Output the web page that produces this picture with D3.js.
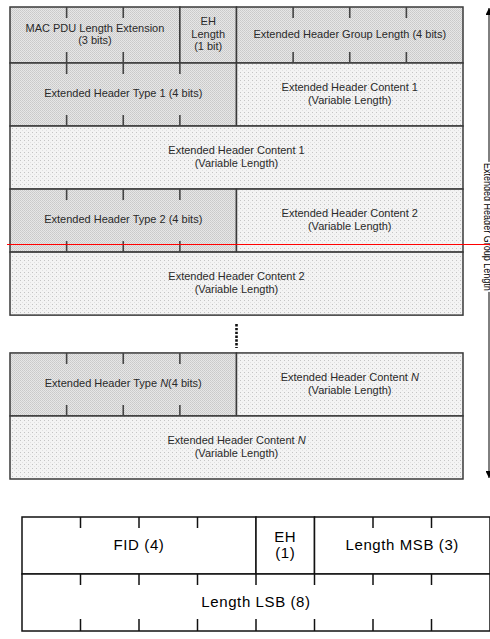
<!DOCTYPE html>
<meta charset="utf-8">
<title>Extended Header Group</title>
<script src="https://d3js.org/d3.v7.min.js"></script>
<style>
  body { margin: 0; background: #fff; }
  svg { display: block; }
  text { font-family: "Liberation Sans", Arial, sans-serif; }
</style>
<div id="chart"></div>
<script>
  // field layout of the extended header group, row by row (bits per field)
  const headerGroups = [
    [
      [
        { bits: 3, kind: "type", lines: ["MAC PDU Length Extension", "(3 bits)"] },
        { bits: 1, kind: "type", lines: ["EH", "Length", "(1 bit)"] },
        { bits: 4, kind: "type", lines: ["Extended Header Group Length (4 bits)"] }
      ],
      [
        { bits: 4, kind: "type", lines: ["Extended Header Type 1 (4 bits)"] },
        { bits: 4, kind: "content", lines: ["Extended Header Content 1", "(Variable Length)"] }
      ],
      [
        { bits: 8, kind: "content", lines: ["Extended Header Content 1", "(Variable Length)"] }
      ],
      [
        { bits: 4, kind: "type", lines: ["Extended Header Type 2 (4 bits)"] },
        { bits: 4, kind: "content", lines: ["Extended Header Content 2", "(Variable Length)"] }
      ],
      [
        { bits: 8, kind: "content", lines: ["Extended Header Content 2", "(Variable Length)"] }
      ]
    ],
    [
      [
        { bits: 4, kind: "type", lines: ["Extended Header Type {N}(4 bits)"] },
        { bits: 4, kind: "content", lines: ["Extended Header Content {N}", "(Variable Length)"] }
      ],
      [
        { bits: 8, kind: "content", lines: ["Extended Header Content {N}", "(Variable Length)"] }
      ]
    ]
  ];

  // MAC header fields (bits per field)
  const macRows = [
    [
      { bits: 4, lines: ["FID (4)"] },
      { bits: 1, lines: ["EH", "(1)"] },
      { bits: 3, lines: ["Length MSB (3)"] }
    ],
    [
      { bits: 8, lines: ["Length LSB (8)"] }
    ]
  ];
  const macTickSides = [["top"], ["top", "bottom"]];

  const arrowLabel = "Extended Header Group Length";
  const arrowLabelRow = 3.6;
  const markerRow = 3.88;
  const groupGap = 0.6;
  const bitsPerRow = 8;

  const W = 490, H = 639;

  const svg = d3.select("#chart")
    .append("svg")
    .attr("width", W)
    .attr("height", H);

  const defs = svg.append("defs");

  const typePat = defs.append("pattern")
    .attr("id", "typeFill")
    .attr("patternUnits", "userSpaceOnUse")
    .attr("width", 2).attr("height", 2);
  typePat.append("rect").attr("width", 2).attr("height", 2).attr("fill", "#e6e6e6");
  typePat.append("rect").attr("width", 1).attr("height", 1).attr("fill", "#c9c9c9");
  typePat.append("rect").attr("x", 1).attr("y", 1).attr("width", 1).attr("height", 1).attr("fill", "#cfcfcf");

  const contPat = defs.append("pattern")
    .attr("id", "contentFill")
    .attr("patternUnits", "userSpaceOnUse")
    .attr("width", 4).attr("height", 4);
  contPat.append("rect").attr("width", 4).attr("height", 4).attr("fill", "#f3f3f3");
  contPat.append("rect").attr("width", 1).attr("height", 1).attr("fill", "#c4c4c4");
  contPat.append("rect").attr("x", 2).attr("y", 2).attr("width", 1).attr("height", 1).attr("fill", "#e0e0e0");

  defs.append("marker")
    .attr("id", "arrowHead")
    .attr("viewBox", "0 0 10 10")
    .attr("refX", 10).attr("refY", 5)
    .attr("markerWidth", 10).attr("markerHeight", 7)
    .attr("markerUnits", "userSpaceOnUse")
    .attr("orient", "auto-start-reverse")
    .append("path")
    .attr("d", "M0,0 L10,5 L0,10 Z")
    .attr("fill", "#000");

  // write a label line, {X} parts in italics
  function writeLine(textSel, str) {
    str.split(/(\{[^}]*\})/).filter(s => s.length).forEach(part => {
      const it = part.startsWith("{");
      textSel.append("tspan")
        .style("font-style", it ? "italic" : "normal")
        .text(it ? part.slice(1, -1) : part);
    });
  }

  function layoutRows(rows, slots) {
    const cells = [];
    rows.forEach((row, i) => {
      let b = 0;
      row.forEach(f => {
        cells.push(Object.assign({}, f, { b0: b, b1: b + f.bits, r0: slots[i], r1: slots[i] + 1, row: i }));
        b += f.bits;
      });
    });
    return cells;
  }

  function drawLabels(g, cells, x, y, size, lineH, color) {
    cells.forEach(c => {
      const cx = (x(c.b0) + x(c.b1)) / 2;
      const cy = (y(c.r0) + y(c.r1)) / 2 - 1;
      c.lines.forEach((ln, k) => {
        const t = g.append("text")
          .attr("x", cx)
          .attr("y", cy + (k - (c.lines.length - 1) / 2) * lineH)
          .attr("dy", "0.35em")
          .attr("text-anchor", "middle")
          .style("font-size", size + "px")
          .style("fill", color);
        writeLine(t, ln);
      });
    });
  }

  // ---------- extended header group ----------
  const slots = [];
  let s = 0;
  headerGroups.forEach((grp, gi) => {
    if (gi > 0) s += groupGap;
    grp.forEach(() => { slots.push(s); s += 1; });
  });
  const totalRows = s;

  const x = d3.scaleLinear().domain([0, bitsPerRow]).range([10, 463]);
  const y = d3.scaleLinear().domain([0, 1, totalRows]).range([7, 63, 479]);

  const topRows = headerGroups.flat();
  const topCells = layoutRows(topRows, slots);
  const gTop = svg.append("g");

  gTop.selectAll("rect.cell")
    .data(topCells)
    .join("rect")
    .attr("class", "cell")
    .attr("x", d => x(d.b0))
    .attr("y", d => y(d.r0))
    .attr("width", d => x(d.b1) - x(d.b0))
    .attr("height", d => y(d.r1) - y(d.r0))
    .attr("fill", d => d.kind === "type" ? "url(#typeFill)" : "url(#contentFill)")
    .attr("stroke", "#3a3a3a")
    .attr("stroke-width", 1.5);

  const tickLen = 11;
  const topTicks = [];
  topCells.filter(c => c.kind === "type").forEach(c => {
    for (let b = c.b0 + 1; b < c.b1; b++) {
      topTicks.push({ b, y0: y(c.r0), y1: y(c.r0) + tickLen });
      topTicks.push({ b, y0: y(c.r1) - tickLen, y1: y(c.r1) });
    }
  });
  gTop.selectAll("line.tick")
    .data(topTicks)
    .join("line")
    .attr("class", "tick")
    .attr("x1", d => x(d.b)).attr("x2", d => x(d.b))
    .attr("y1", d => d.y0).attr("y2", d => d.y1)
    .attr("stroke", "#444")
    .attr("stroke-width", 1.6);

  drawLabels(gTop, topCells, x, y, 11, 12.5, "#2a2a2a");

  // ellipsis between the groups
  const gapStart = slots[headerGroups[0].length - 1] + 1;
  gTop.append("line")
    .attr("x1", x(4)).attr("x2", x(4))
    .attr("y1", y(gapStart) + 9)
    .attr("y2", y(gapStart + groupGap) - 5)
    .attr("stroke", "#111")
    .attr("stroke-width", 2.6)
    .attr("stroke-dasharray", "2.4,1.4");

  // group length arrow
  const arrowX = 489;
  gTop.append("line")
    .attr("x1", arrowX).attr("x2", arrowX)
    .attr("y1", y(0) + 1).attr("y2", y(totalRows) - 1)
    .attr("stroke", "#000")
    .attr("stroke-width", 1)
    .attr("marker-start", "url(#arrowHead)")
    .attr("marker-end", "url(#arrowHead)");

  const gLab = gTop.append("g")
    .attr("transform", `translate(484,${y(arrowLabelRow)}) rotate(90)`);
  const bg = gLab.append("rect").attr("fill", "#fff");
  const lab = gLab.append("text")
    .attr("text-anchor", "middle")
    .attr("textLength", 128)
    .attr("lengthAdjust", "spacingAndGlyphs")
    .style("font-size", "11px")
    .style("fill", "#000")
    .text(arrowLabel);
  const bb = lab.node().getBBox();
  bg.attr("x", bb.x - 1).attr("y", bb.y).attr("width", bb.width + 2).attr("height", bb.height);

  // red marker line
  svg.append("line")
    .attr("x1", 7).attr("x2", W)
    .attr("y1", Math.floor(y(markerRow)) + 0.5)
    .attr("y2", Math.floor(y(markerRow)) + 0.5)
    .attr("stroke", "#ff0000")
    .attr("stroke-width", 1);

  // ---------- MAC header ----------
  const xm = d3.scaleLinear().domain([0, bitsPerRow]).range([22, 490]);
  const ym = d3.scaleLinear().domain([0, macRows.length]).range([517, 631]);
  const macCells = layoutRows(macRows, macRows.map((r, i) => i));
  const gMac = svg.append("g");

  gMac.selectAll("rect.cell")
    .data(macCells)
    .join("rect")
    .attr("class", "cell")
    .attr("x", d => xm(d.b0))
    .attr("y", d => ym(d.r0))
    .attr("width", d => xm(d.b1) - xm(d.b0))
    .attr("height", d => ym(d.r1) - ym(d.r0))
    .attr("fill", "#fff")
    .attr("stroke", "#111")
    .attr("stroke-width", 1.5);

  const macTicks = [];
  macCells.forEach(c => {
    const sides = macTickSides[c.row];
    for (let b = c.b0 + 1; b < c.b1; b++) {
      if (sides.includes("top")) macTicks.push({ b, y0: ym(c.r0), y1: ym(c.r0) + tickLen });
      if (sides.includes("bottom")) macTicks.push({ b, y0: ym(c.r1) - tickLen - 1, y1: ym(c.r1) });
    }
  });
  gMac.selectAll("line.tick")
    .data(macTicks)
    .join("line")
    .attr("class", "tick")
    .attr("x1", d => xm(d.b)).attr("x2", d => xm(d.b))
    .attr("y1", d => d.y0).attr("y2", d => d.y1)
    .attr("stroke", "#111")
    .attr("stroke-width", 1.5);

  const gMacText = gMac.append("g").style("letter-spacing", "0.6px");
  drawLabels(gMacText, macCells, xm, ym, 15, 15.5, "#000");
</script>
